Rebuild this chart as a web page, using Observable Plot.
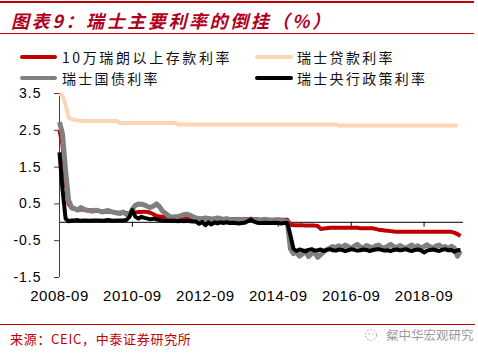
<!DOCTYPE html>
<html>
<head>
<meta charset="utf-8">
<script src="https://cdn.jsdelivr.net/npm/d3@7"></script>
<script src="https://cdn.jsdelivr.net/npm/@observablehq/plot@0.6"></script>
<style>
  html, body { margin: 0; padding: 0; background: #fff; }
  #page { position: relative; width: 478px; height: 353px; overflow: hidden; font-family: "Noto Sans CJK SC", "Liberation Sans", sans-serif; }
  .hline { position: absolute; left: 0; background: #C00000; }
  #title { position: absolute; left: 11px; top: 8px; font-size: 18px; font-weight: 700; font-style: italic; letter-spacing: 2.6px; color: #B0001E; white-space: nowrap; line-height: 24px; }
  .leg { position: absolute; font-size: 14px; letter-spacing: 2.6px; color: #111; white-space: nowrap; line-height: 18px; }
  .sw { position: absolute; height: 4px; border-radius: 2px; }
  #chart { position: absolute; left: 0; top: 80px; }
  #source { position: absolute; left: 10px; top: 330px; font-size: 13px; letter-spacing: 0.7px; color: #C00000; white-space: nowrap; line-height: 18px; }
  #wm { position: absolute; left: 386px; top: 327px; font-size: 12.5px; color: #9a9a9a; white-space: nowrap; line-height: 16px; }
  #wmicon { position: absolute; left: 364px; top: 328px; }
  svg [aria-label="y-axis tick label"] text { letter-spacing: 1px; }
  svg [aria-label="x-axis tick label"] text { letter-spacing: 0.5px; }
</style>
</head>
<body>
<div id="page">
  <div class="hline" style="top:1px;height:1.5px;width:474px;"></div>
  <div id="title">图表9：瑞士主要利率的倒挂（%）</div>
  <div class="hline" style="top:33px;height:1px;width:474px;"></div>

  <div class="sw" style="left:20px;top:55px;width:37px;background:#C00000;"></div>
  <div class="leg" style="left:62px;top:48px;">10万瑞朗以上存款利率</div>
  <div class="sw" style="left:255px;top:55px;width:38px;background:#FCD5B5;"></div>
  <div class="leg" style="left:297px;top:48px;letter-spacing:2.3px;">瑞士贷款利率</div>
  <div class="sw" style="left:20px;top:76px;width:37px;background:#808080;"></div>
  <div class="leg" style="left:62px;top:69px;letter-spacing:2.3px;">瑞士国债利率</div>
  <div class="sw" style="left:255px;top:76px;width:38px;background:#000;"></div>
  <div class="leg" style="left:297px;top:69px;letter-spacing:2.3px;">瑞士央行政策利率</div>

  <div id="chart"></div>

  <div class="hline" style="top:324px;height:1px;width:475px;"></div>
  <div id="source">来源：CEIC，中泰证券研究所</div>
  <svg id="wmicon" width="14" height="14" viewBox="0 0 14 14">
    <circle cx="7" cy="7" r="5.5" fill="none" stroke="#aaa" stroke-width="1" stroke-dasharray="2 1.5"/>
    <circle cx="5" cy="6" r="0.8" fill="#aaa"/><circle cx="9" cy="6" r="0.8" fill="#aaa"/>
  </svg>
  <div id="wm">粲中华宏观研究</div>
</div>
<script>
// Monthly observations, 2008-09 .. 2019-09
const startMonth = new Date(Date.UTC(2008, 8, 1));
const endDomain = new Date(Date.UTC(2019, 9, 1));

const depositRate = [
  2.5, 2.1, 1.1, 0.5, 0.38,
  0.36,0.35,0.35,0.34,0.33,0.33,0.32,0.31,0.31,0.30,0.29,0.29,0.28,0.27,0.26,
  0.26,0.25,0.25,0.24,0.25,
  0.27,0.28,0.28,0.29,0.28,0.26,0.22,
  0.17,0.16,0.15,0.15,0.14,0.14,0.13,0.13,0.12,
  0.12,0.12,0.11,0.11,0.11,0.10,0.10,0.10,0.10,0.10,0.09,0.09,0.09,0.09,0.09,
  0.08,0.08,0.08,0.08,0.08,0.08,0.08,0.08,0.08,0.08,0.07,0.07,0.07,0.07,0.07,0.07,0.07,0.07,0.07,0.07,
  -0.06,-0.08,-0.08,-0.08,-0.08,-0.09,-0.09,-0.09,-0.09,-0.10,
  -0.18,-0.17,-0.16,-0.15,-0.15,-0.15,-0.15,-0.15,-0.15,-0.15,-0.15,-0.15,-0.15,-0.16,-0.16,-0.16,-0.16,-0.16,-0.18,
  -0.20,-0.21,-0.22,-0.23,-0.24,-0.25,
  -0.26,-0.26,-0.26,-0.26,-0.26,-0.26,-0.26,-0.26,-0.26,-0.26,-0.26,-0.26,-0.26,-0.26,-0.26,-0.26,-0.26,-0.26,-0.26,
  -0.28,-0.32,-0.37
];

const loanRate = [
  3.5,3.45,3.2,2.85,2.8,2.78,2.77,2.76,
  2.75,2.75,2.75,2.75,2.75,2.75,2.75,2.75,2.75,2.75,2.75,2.75,
  2.70,2.70,2.70,2.70,2.70,2.70,2.70,2.70,2.70,2.70,2.70,2.70,2.70,2.70,2.70,2.70,2.70,2.70,2.70,
  2.66,2.66,2.66,2.66,2.66,2.66,2.66,2.66,2.66,2.66,2.66,2.66,2.66,2.66,2.66,2.66,2.66,2.66,2.66,2.66,
  2.66,2.66,2.66,2.66,2.66,2.66,2.66,2.66,2.66,2.66,2.66,2.66,2.66,2.66,2.66,2.66,2.66,2.66,2.66,2.66,
  2.66,2.66,2.66,2.66,2.66,2.66,2.66,2.66,2.66,2.66,2.66,2.66,2.66,
  2.63,2.63,2.63,2.63,2.63,2.63,2.63,2.63,2.63,2.63,2.63,2.63,2.63,2.63,2.63,2.63,2.63,2.63,2.63,2.63,
  2.63,2.63,2.63,2.63,2.63,2.63,2.63,2.63,2.63,2.63,2.63,2.63,2.63,2.63,2.63,2.63,2.63,2.63,2.63,2.63
];

const bondRate = [
  2.72, 2.4, 1.4, 0.6, 0.4,
  0.37,0.33,0.40,0.36,0.33,0.32,0.30,0.33,0.31,0.28,0.30,0.32,0.29,0.27,0.25,0.24,0.28,0.22,0.19,
  0.36,0.46,0.50,0.49,0.47,0.43,0.40,0.44,0.50,0.42,
  0.30,0.24,0.17,0.14,0.15,0.16,0.18,
  0.21,0.22,0.19,0.15,0.12,
  0.10,0.09,0.12,0.10,0.07,0.10,0.12,0.10,0.08,0.10,
  0.08,0.06,0.05,0.08,0.07,0.05,0.06,0.09,0.07,0.06,0.05,0.07,0.08,0.06,0.05,0.06,0.07,0.05,0.04,0.02,
  -0.72,-0.85,-0.80,-0.92,-0.86,-0.78,-0.93,-0.85,-0.80,-0.95,-0.88,-0.80,-0.74,-0.70,-0.66,
  -0.68,-0.64,-0.70,-0.62,-0.66,-0.72,-0.65,-0.60,-0.67,-0.70,-0.63,-0.66,-0.71,-0.64,-0.62,-0.68,-0.70,-0.65,-0.60,-0.66,
  -0.69,-0.63,-0.67,-0.72,-0.66,-0.62,-0.68,-0.64,-0.70,-0.66,-0.61,-0.67,-0.70,-0.64,-0.62,-0.68,-0.66,-0.71,-0.65,-0.70,
  -0.92,-0.78
];

const policyRate = [
  1.9, 0.9, 0.1, 0.03, 0.05,
  0.05,0.06,0.04,0.05,0.05,0.04,0.05,0.05,0.05,0.04,0.05,0.06,0.05,0.04,0.05,0.05,0.05,0.06,
  0.14,0.33,0.15,0.10,0.15,0.12,0.10,0.08,0.10,0.08,0.06,0.05,
  0.04,0.04,0.05,0.04,0.03,0.04,0.03,0.04,0.03,0.02,0.02,
  -0.04,0.01,-0.08,0.0,-0.06,0.0,-0.03,0.0,-0.02,0.0,
  -0.02,-0.01,-0.02,-0.03,-0.02,-0.01,0.03,0.08,0.02,-0.01,-0.02,-0.02,-0.01,-0.02,-0.02,-0.01,-0.02,-0.03,-0.02,-0.01,
  -0.35,-0.72,
  -0.78,-0.74,-0.76,-0.79,-0.75,-0.73,-0.77,-0.76,-0.74,-0.78,
  -0.75,-0.73,-0.76,-0.77,-0.74,-0.75,-0.78,-0.76,-0.73,-0.75,
  -0.77,-0.76,-0.74,-0.75,-0.78,-0.76,-0.74,-0.73,-0.75,-0.77,
  -0.76,-0.78,-0.75,-0.74,-0.76,-0.75,-0.73,-0.76,-0.78,-0.75,
  -0.74,-0.76,-0.82,-0.77,-0.75,-0.74,-0.76,-0.78,-0.75,-0.73,
  -0.76,-0.75,-0.80,-0.76,-0.75
];

const yTicks = [3.5, 2.5, 1.5, 0.5, -0.5, -1.5];
const xTickLabels = ["2008-09", "2010-09", "2012-09", "2014-09", "2016-09", "2018-09"];
const xTicks = xTickLabels.map(s => new Date(s + "-01T00:00:00Z"));

const seriesDefs = [
  {name: "瑞士贷款利率", values: loanRate, color: "#FCD5B5", width: 4},
  {name: "10万瑞朗以上存款利率", values: depositRate, color: "#C00000", width: 4},
  {name: "瑞士国债利率", values: bondRate, color: "#808080", width: 5},
  {name: "瑞士央行政策利率", values: policyRate, color: "#000000", width: 4}
];

const toRows = v => v.map((value, i) => ({date: d3.utcMonth.offset(startMonth, i), value}));

const chart = Plot.plot({
  width: 478,
  height: 230,
  marginLeft: 59,
  marginRight: 15,
  marginTop: 13,
  marginBottom: 33,
  x: {type: "utc", domain: [startMonth, endDomain], label: null},
  y: {domain: [-1.5, 3.5], label: null},
  style: {fontFamily: "'Liberation Sans', Arial, sans-serif", background: "transparent", color: "#000", overflow: "visible"},
  marks: [
    Plot.ruleY([0], {stroke: "#000", strokeWidth: 1}),
    Plot.ruleX(xTicks, {x: d => d, y1: 0, y2: -0.13, stroke: "#000", strokeWidth: 1}),
    Plot.ruleX([startMonth], {y1: -1.5, y2: 3.5, stroke: "#404040", strokeWidth: 1}),
    Plot.axisY({ticks: yTicks, tickSize: 5, tickPadding: 13, tickFormat: d => d.toFixed(1), fontSize: 14, stroke: "#404040", label: null}),
    Plot.axisX({ticks: xTicks, tickSize: 0, tickPadding: 13, fontSize: 15, label: null,
      tickFormat: d => xTickLabels[xTicks.findIndex(t => +t === +d)]}),
    ...seriesDefs.map(s => Plot.line(toRows(s.values), {
      x: "date", y: "value", stroke: s.color, strokeWidth: s.width,
      strokeLinejoin: "round", strokeLinecap: "butt"
    }))
  ]
});
document.getElementById("chart").appendChild(chart);
</script>
</body>
</html>
